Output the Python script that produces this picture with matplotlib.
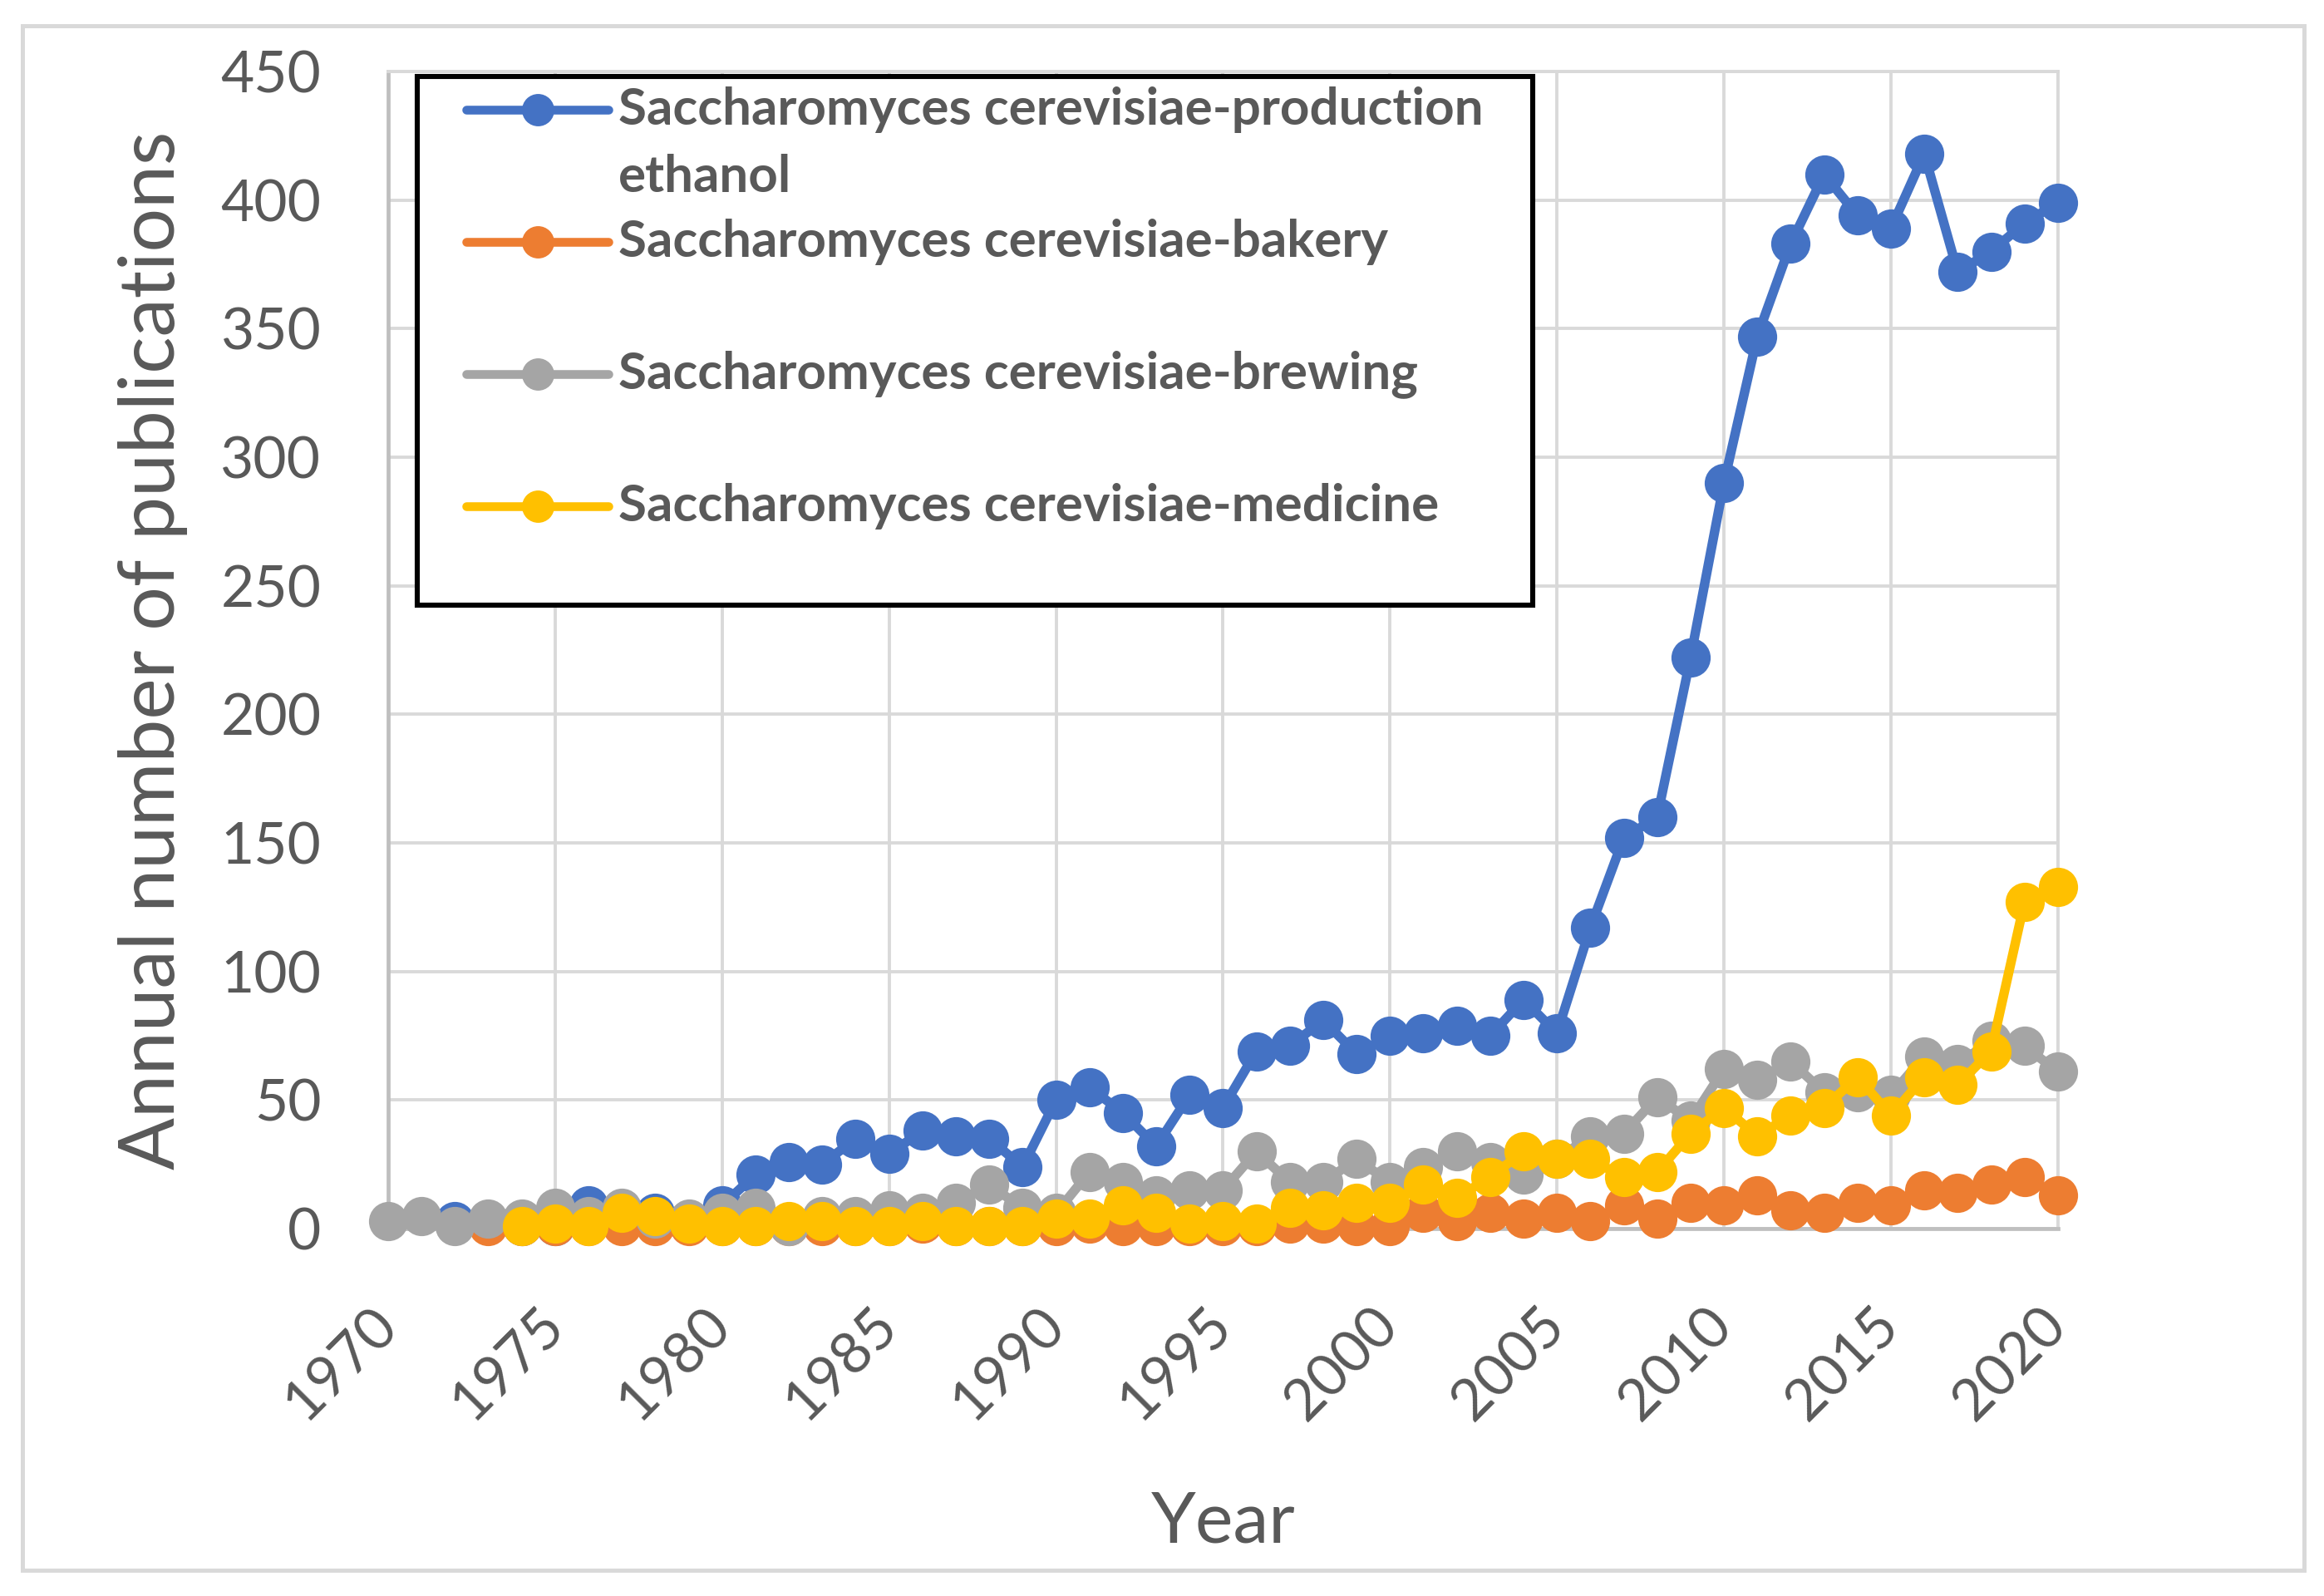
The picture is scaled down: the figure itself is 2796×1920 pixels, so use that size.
import matplotlib
matplotlib.use("Agg")
import matplotlib.pyplot as plt
import matplotlib.transforms as mtransforms
from matplotlib.patches import Rectangle

# ---- data ----
years_ethanol = list(range(1972, 2021))
ethanol = [3, 2, 1, 1, 9, 7, 6, 3, 9, 21, 26, 25, 35, 29, 38, 36, 35, 24,
           50, 55, 45, 32, 52, 47, 69, 71, 81, 68, 75, 76, 79, 75, 89, 76,
           117, 152, 160, 222, 290, 347, 383, 410, 394, 389, 418, 372, 380,
           391, 399]

years_bakery = list(range(1973, 2021))
bakery = [1, 1, 1, 1, 1, 1, 1, 1, 1, 1, 1, 1, 1, 2, 1, 1, 1, 1, 2, 1, 1,
          1, 1, 1, 2, 2, 1, 1, 6, 3, 6, 4, 6, 3, 9, 4, 10, 9, 13, 7, 6, 10,
          9, 15, 14, 17, 20, 13]

years_brewing = list(range(1970, 2021))
brewing = [3, 5, 1, 4, 4, 8, 5, 8, 4, 4, 6, 8, 1, 5, 5, 7, 6, 10, 17, 8,
           6, 22, 18, 13, 15, 15, 30, 18, 18, 27, 18, 24, 30, 26, 21, 27,
           36, 37, 51, 42, 62, 58, 65, 53, 53, 52, 67, 64, 73, 71, 61]

years_medicine = list(range(1974, 2021))
medicine = [1, 2, 1, 6, 5, 2, 1, 1, 3, 3, 1, 1, 3, 1, 1, 1, 4, 4, 9, 6, 2,
            3, 2, 8, 7, 10, 10, 17, 12, 20, 30, 27, 27, 20, 22, 37, 47, 36,
            44, 47, 59, 44, 59, 56, 69, 127, 133]

labels = ["Saccharomyces cerevisiae-production\nethanol",
          "Saccharomyces cerevisiae-bakery",
          "Saccharomyces cerevisiae-brewing",
          "Saccharomyces cerevisiae-medicine"]
colors = ["#4472C4", "#ED7D31", "#A5A5A5", "#FFC000"]

x_ticks = list(range(1970, 2021, 5))
y_ticks = list(range(0, 451, 50))

TEXT = "#595959"
FONT = "Lato"

plt.rcParams['font.family'] = [FONT, 'DejaVu Sans']

fig = plt.figure(figsize=(13.98, 9.6), dpi=200)
ax = fig.add_axes([0.167, 0.2302, 0.7185, 0.725])

series = [(years_ethanol, ethanol), (years_bakery, bakery),
          (years_brewing, brewing), (years_medicine, medicine)]
for i, ((xs, ys), color) in enumerate(zip(series, colors)):
    ax.plot(xs, ys, color=color, linewidth=4.1, marker='o', markersize=17,
            markeredgewidth=0, solid_joinstyle='round', clip_on=False,
            zorder=3 + i)

ax.set_xlim(1970, 2020)
ax.set_ylim(0, 450)
ax.set_xticks(x_ticks)
ax.set_yticks(y_ticks)
ax.grid(True, color="#D9D9D9", linewidth=1.4)
ax.set_axisbelow(True)
for side in ("top", "right"):
    ax.spines[side].set_color("#D9D9D9")
    ax.spines[side].set_linewidth(1.4)
for side in ("left", "bottom"):
    ax.spines[side].set_color("#BFBFBF")
    ax.spines[side].set_linewidth(1.7)
    ax.spines[side].set_zorder(2.5)

ax.tick_params(axis='both', length=0, labelsize=25, labelcolor=TEXT)
ax.tick_params(axis='y', pad=29)
ax.tick_params(axis='x', pad=30)
shift = mtransforms.ScaledTranslation(8 / 72, 0, fig.dpi_scale_trans)
for lbl in ax.get_xticklabels():
    lbl.set_rotation(45)
    lbl.set_ha('right')
    lbl.set_transform(lbl.get_transform() + shift)

ax.set_xlabel("Year", fontsize=31, color=TEXT, va='center')
ax.set_ylabel("Annual number of publications", fontsize=33.5, color=TEXT,
              va='center')
ax.xaxis.set_label_coords(0.5, -0.254)
ax.yaxis.set_label_coords(-0.141, 0.5)

# ---- legend box (drawn by hand so the first handle sits on the first line)
ax.add_patch(Rectangle((0.0174, 0.5388), 0.668, 0.4569,
                       transform=ax.transAxes, facecolor='white',
                       edgecolor='black', linewidth=2.2, clip_on=False,
                       zorder=10))
row_y = [0.967, 0.8527, 0.7385, 0.6243]
line_step = 0.0582
for label, color, y in zip(labels, colors, row_y):
    ax.plot([0.047, 0.132], [y, y], transform=ax.transAxes, color=color,
            linewidth=3.8, solid_capstyle='round', clip_on=False, zorder=11)
    ax.plot([0.0895], [y], transform=ax.transAxes, color=color, marker='o',
            markersize=14, markeredgewidth=0, clip_on=False, zorder=12)
    for k, part in enumerate(label.split("\n")):
        ax.text(0.138, y - k * line_step, part, transform=ax.transAxes,
                fontsize=22.3, fontweight='bold', color=TEXT,
                va='center', ha='left', zorder=13)

# outer chart-area border
fig.patches.append(Rectangle((0.00966, 0.01615), 0.98174, 0.9677,
                             transform=fig.transFigure, fill=False,
                             edgecolor="#D9D9D9", linewidth=1.8))

fig.savefig("out.png", dpi=200, facecolor='white')
